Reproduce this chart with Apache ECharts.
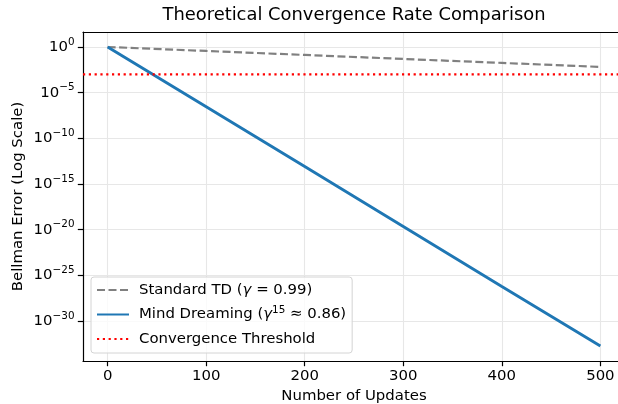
<!DOCTYPE html>
<html>
<head>
<meta charset="utf-8">
<script src="https://cdn.jsdelivr.net/npm/echarts@6/dist/echarts.min.js"></script>
<style>
  html, body { margin: 0; padding: 0; background: #fff; }
  #chart { width: 618px; height: 404px; }
</style>
</head>
<body>
<div id="chart"></div>
<script>
// values
const updates = [0, 100, 200, 300, 400, 500];
const standardTD = [1, 0.366, 0.134, 0.049, 0.018, 0.0066];
const mindDreaming = [1, 2.8e-7, 8e-14, 2.2e-20, 6e-27, 1.8e-33];
const threshold = 1e-3;

// tick labels
const xTicks = [0, 100, 200, 300, 400, 500];
const yTickExps = [0, -5, -10, -15, -20, -25, -30];

// axis limits (matplotlib-style 5% margins)
const xMin = -25, xMax = 525;
const yMinExp = -34.38, yMaxExp = 1.64;

const seriesNames = [
  'Standard TD',
  'Mind Dreaming',
  'Convergence Threshold'
];
const legendLabels = {
  'Standard TD': 'Standard TD ({i|γ} = 0.99)',
  'Mind Dreaming': 'Mind Dreaming ({i|γ}{sup|15} ≈ 0.86)',
  'Convergence Threshold': 'Convergence Threshold'
};

const FONT = 'DejaVu Sans';
const FS = 14.9;
const pairs = (xs, ys) => xs.map((x, i) => [x, ys[i]]);
const yTicks = yTickExps.map(e => Math.pow(10, e));

const chart = echarts.init(document.getElementById('chart'));

chart.setOption({
  animation: false,
  backgroundColor: '#fff',
  textStyle: { fontFamily: FONT },
  title: {
    text: 'Theoretical Convergence Rate Comparison',
    left: 354,
    textAlign: 'center',
    top: 6,
    padding: 0,
    textStyle: { fontFamily: FONT, fontSize: 17.9, fontWeight: 'normal', color: '#000' }
  },
  grid: {
    left: 83, right: -7, top: 32, bottom: 43,
    outerBoundsMode: 'none',
    containLabel: false,
    show: false
  },
  legend: {
    orient: 'vertical',
    left: 91, top: 277,
    padding: [4, 6, 5, 5],
    itemGap: 6.5,
    itemWidth: 32, itemHeight: 14,
    backgroundColor: 'rgba(255,255,255,0.8)',
    borderColor: '#d4d4d4', borderWidth: 1, borderRadius: 3,
    itemStyle: { opacity: 0 },
    data: seriesNames,
    formatter: name => legendLabels[name],
    textStyle: {
      fontFamily: FONT, fontSize: FS, color: '#000', lineHeight: 18,
      padding: [0, 0, 0, 5],
      rich: {
        i: { fontFamily: FONT, fontSize: FS, fontStyle: 'italic', color: '#000', lineHeight: 18 },
        sup: { fontFamily: FONT, fontSize: 10.4, color: '#000', lineHeight: 10, padding: [0, 0, 8, 0] }
      }
    }
  },
  xAxis: [
    {
      type: 'value',
      min: xMin, max: xMax,
      name: 'Number of Updates',
      nameLocation: 'middle',
      nameGap: 28,
      nameTextStyle: { fontFamily: FONT, fontSize: FS, color: '#000' },
      axisLine: { show: true, onZero: false, lineStyle: { color: '#000', width: 1.2 } },
      axisTick: { show: true, length: 5.2, customValues: xTicks, lineStyle: { color: '#000', width: 1.2 } },
      axisLabel: {
        margin: 8, fontFamily: FONT, fontSize: FS, color: '#000',
        customValues: xTicks,
        formatter: v => String(v)
      },
      splitLine: { show: true, lineStyle: { color: '#e7e7e7', width: 1.1 } }
    },
    {
      type: 'value',
      position: 'top',
      min: xMin, max: xMax,
      axisLine: { show: true, onZero: false, lineStyle: { color: '#000', width: 1.2 } },
      axisTick: { show: false },
      axisLabel: { show: false },
      splitLine: { show: false }
    }
  ],
  yAxis: {
    type: 'log',
    logBase: 1e5,
    min: Math.pow(10, yMinExp),
    max: Math.pow(10, yMaxExp),
    name: 'Bellman Error (Log Scale)',
    nameLocation: 'middle',
    nameGap: 57,
    nameRotate: 90,
    nameMoveOverlap: false,
    nameTextStyle: { fontFamily: FONT, fontSize: FS, color: '#000' },
    axisLine: { show: true, onZero: false, lineStyle: { color: '#000', width: 1.2 } },
    axisTick: { show: true, length: 5.2, customValues: yTicks, lineStyle: { color: '#000', width: 1.2 } },
    axisLabel: {
      margin: 8.5, fontFamily: FONT, color: '#000',
      customValues: yTicks,
      formatter: v => {
        const e = Math.round(Math.log10(v));
        return '{b|10}{s|' + (e < 0 ? '\u2212' + (-e) : e) + '}';
      },
      rich: {
        b: { fontFamily: FONT, fontSize: FS, color: '#000', lineHeight: 17 },
        s: { fontFamily: FONT, fontSize: 10.4, color: '#000', lineHeight: 11, padding: [0, 0, 10, 0] }
      }
    },
    splitLine: { show: true, lineStyle: { color: '#e7e7e7', width: 1.1 } }
  },
  series: [
    {
      name: 'Standard TD',
      type: 'line',
      data: pairs(updates, standardTD),
      symbol: 'none',
      lineStyle: { color: '#808080', width: 2.2, type: [8, 3.5] },
      itemStyle: { color: '#808080' }
    },
    {
      name: 'Mind Dreaming',
      type: 'line',
      data: pairs(updates, mindDreaming),
      symbol: 'none',
      lineStyle: { color: '#1f77b4', width: 2.9 },
      itemStyle: { color: '#1f77b4' }
    },
    {
      name: 'Convergence Threshold',
      type: 'line',
      data: [[xMin, threshold], [xMax, threshold]],
      symbol: 'none',
      lineStyle: { color: '#ff0000', width: 2.2, type: [2.2, 3.6] },
      itemStyle: { color: '#ff0000' }
    }
  ]
});
</script>
</body>
</html>
